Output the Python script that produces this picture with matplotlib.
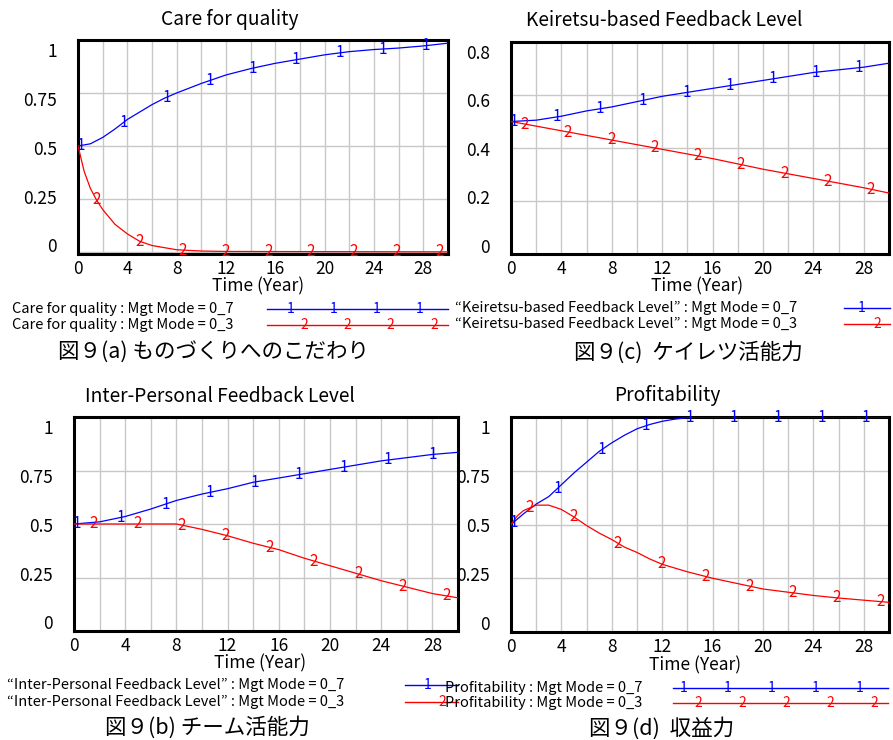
import matplotlib
matplotlib.use('Agg')
import matplotlib.pyplot as plt
from matplotlib.lines import Line2D
import numpy as np

plt.rcParams['font.family'] = ['Noto Sans CJK JP', 'DejaVu Sans']

# ---- data ----
# (a) Care for quality
care_t07 = [0, 1, 2, 3, 4, 5, 6, 7, 8, 10, 12, 14, 16, 18, 20, 22, 24, 26, 28, 30]
care_07 = [0.5, 0.51, 0.54, 0.58, 0.625, 0.66, 0.695, 0.725, 0.75, 0.795, 0.835,
           0.865, 0.89, 0.91, 0.93, 0.945, 0.955, 0.962, 0.972, 0.985]
care_t03 = [0, 0.5, 1, 1.5, 2, 3, 4, 5, 6, 7, 8, 10, 12, 30]
care_03 = [0.5, 0.38, 0.3, 0.245, 0.2, 0.13, 0.085, 0.05, 0.03, 0.02, 0.01, 0.004, 0.002, 0.0]

# (c) Keiretsu-based Feedback Level
kei_t07 = [0, 2, 4, 6, 8, 10, 12, 14, 16, 18, 20, 22, 24, 26, 28, 30]
kei_07 = [0.5, 0.505, 0.52, 0.54, 0.555, 0.575, 0.595, 0.61, 0.625, 0.64, 0.655,
          0.67, 0.685, 0.695, 0.705, 0.72]
kei_t03 = [0, 4, 8, 12, 16, 20, 24, 28, 30]
kei_03 = [0.5, 0.465, 0.43, 0.395, 0.36, 0.32, 0.285, 0.25, 0.23]

# (b) Inter-Personal Feedback Level
ipf_t07 = [0, 2, 4, 6, 8, 10, 12, 14, 16, 18, 20, 22, 24, 26, 28, 30]
ipf_07 = [0.5, 0.51, 0.535, 0.57, 0.61, 0.64, 0.665, 0.695, 0.715, 0.735, 0.755,
          0.775, 0.795, 0.81, 0.825, 0.835]
ipf_t03 = [0, 8, 10, 12, 14, 16, 18, 20, 22, 24, 26, 28, 30]
ipf_03 = [0.5, 0.5, 0.475, 0.445, 0.41, 0.38, 0.34, 0.305, 0.27, 0.235, 0.205, 0.175, 0.155]

# (d) Profitability
pro_t07 = [0, 1, 2, 3, 4, 5, 6, 7, 8, 9, 10, 11, 12, 13, 14, 15, 30]
pro_07 = [0.5, 0.55, 0.595, 0.63, 0.685, 0.74, 0.79, 0.84, 0.88, 0.915, 0.945,
          0.965, 0.98, 0.99, 0.997, 1.0, 1.0]
pro_t03 = [0, 0.5, 1, 2, 3, 4, 5, 6, 7, 8, 9, 10, 11, 12, 14, 16, 18, 20, 22, 24, 26, 28, 30]
pro_03 = [0.5, 0.54, 0.565, 0.59, 0.59, 0.57, 0.535, 0.495, 0.46, 0.43, 0.395, 0.37,
          0.34, 0.315, 0.28, 0.25, 0.225, 0.2, 0.185, 0.17, 0.158, 0.148, 0.138]

titles = ['Care for quality', 'Keiretsu-based Feedback Level',
          'Inter-Personal Feedback Level', 'Profitability']
legend_a = ['Care for quality : Mgt Mode = 0_7', 'Care for quality : Mgt Mode = 0_3']
legend_c = ['“Keiretsu-based Feedback Level” : Mgt Mode = 0_7',
            '“Keiretsu-based Feedback Level” : Mgt Mode = 0_3']
legend_b = ['“Inter-Personal Feedback Level” : Mgt Mode = 0_7',
            '“Inter-Personal Feedback Level” : Mgt Mode = 0_3']
legend_d = ['Profitability : Mgt Mode = 0_7', 'Profitability : Mgt Mode = 0_3']
captions = ['図９(a) ものづくりへのこだわり', '図９(c)  ケイレツ活能力',
            '図９(b) チーム活能力', '図９(d)  収益力']
x_ticks = [0, 4, 8, 12, 16, 20, 24, 28]
y_ticks_1 = [0, 0.25, 0.5, 0.75, 1]
y_labels_1 = ['0', '0.25', '0.5', '0.75', '1']
y_ticks_08 = [0, 0.2, 0.4, 0.6, 0.8]
y_labels_08 = ['0', '0.2', '0.4', '0.6', '0.8']

W, H = 893, 740
BLUE = '#0000ff'
RED = '#ff0000'
GRID = '#c8c8c8'

fig = plt.figure(figsize=(W / 100, H / 100), dpi=100)


def make_panel(box, ylo, yhi, yvals, ylabels, curves):
    left, top, right, bottom = box
    ax = fig.add_axes([left / W, 1 - bottom / H, (right - left) / W, (bottom - top) / H])
    ax.set_xlim(0, 30)
    ax.set_ylim(ylo, yhi)
    for t, v, color, digit, start, step in curves:
        ax.plot(t, v, color=color, lw=0.9, zorder=3)
        for mt in np.arange(start, 30, step):
            ax.text(mt, np.interp(mt, t, v), digit, color=color, fontsize=11,
                    ha='center', va='center', zorder=4)
    ax.set_xticks(x_ticks)
    ax.set_xticks(np.arange(0, 31, 2), minor=True)
    ax.grid(True, which='both', axis='x', color=GRID, lw=1)
    # vensim spreads the y labels a bit inside the gridlines
    span = yhi - ylo
    ax.set_yticks([ylo + (0.04 + (v - yvals[0]) / (yvals[-1] - yvals[0]) * 0.913) * span
                   for v in yvals])
    ax.set_yticklabels(ylabels)
    ax.set_yticks(yvals, minor=True)
    ax.grid(True, which='minor', axis='y', color=GRID, lw=1)
    ax.tick_params(which='both', length=0)
    ax.tick_params(axis='y', pad=15, labelsize=12.5)
    ax.tick_params(axis='x', pad=4, labelsize=12.5)
    for s in ax.spines.values():
        s.set_linewidth(2.2)
    ax.set_axisbelow(True)
    return ax


def legend(x_text, ys, labels, x0, x1, blue_marks, red_marks):
    for y, lab, color, digit, marks in zip(ys, labels, [BLUE, RED], ['1', '2'],
                                           [blue_marks, red_marks]):
        fig.text(x_text / W, 1 - y / H, lab, fontsize=10.5, ha='left', va='center')
        fig.add_artist(Line2D([x0 / W, x1 / W], [1 - y / H, 1 - y / H],
                              transform=fig.transFigure, color=color, lw=1))
        for m in marks:
            fig.text(m / W, 1 - y / H, digit, color=color, fontsize=10,
                     ha='center', va='center')


def ftext(x, y, s, size):
    fig.text(x / W, 1 - y / H, s, fontsize=size, ha='center', va='center')


# (a)
make_panel((78, 40, 448, 254), -0.01, 1.0, y_ticks_1, y_labels_1,
           [(care_t07, care_07, BLUE, '1', 0.2, 3.5),
            (care_t03, care_03, RED, '2', 1.5, 3.48)])
# (c)
make_panel((511, 42, 889, 254), 0, 0.8, y_ticks_08, y_labels_08,
           [(kei_t07, kei_07, BLUE, '1', 0.2, 3.43),
            (kei_t03, kei_03, RED, '2', 1.1, 3.43)])
# (d)
make_panel((511, 417, 889, 632), 0, 1.0, y_ticks_1, y_labels_1,
           [(pro_t07, pro_07, BLUE, '1', 0.2, 3.5),
            (pro_t03, pro_03, RED, '2', 1.5, 3.48)])
# (b)
make_panel((74, 417, 458, 631), 0, 1.0, y_ticks_1, y_labels_1,
           [(ipf_t07, ipf_07, BLUE, '1', 0.2, 3.48),
            (ipf_t03, ipf_03, RED, '2', 1.5, 3.45)])

ftext(230, 20, titles[0], 13.8)
ftext(664, 21, titles[1], 13.8)
ftext(220, 396, titles[2], 13.8)
ftext(667, 396, titles[3], 13.8)

for x, y in [(258, 286), (697, 286), (260, 663), (695, 665)]:
    ftext(x, y, 'Time (Year)', 12.5)

legend(12, [309, 325], legend_a, 267, 448, [291, 334, 377, 420], [304, 347, 390, 434])
legend(455, [308, 324], legend_c, 844, 890, [862], [877])
legend(7, [685, 702], legend_b, 405, 458, [428], [442])
legend(445, [688, 703], legend_d, 673, 888, [684, 728, 772, 816, 860],
       [698, 742, 786, 830, 874])

ftext(213, 352, captions[0], 15.5)
ftext(688, 352, captions[1], 15.5)
ftext(207, 727, captions[2], 15.5)
ftext(662, 728, captions[3], 15.5)

fig.savefig('out.png', dpi=100)
